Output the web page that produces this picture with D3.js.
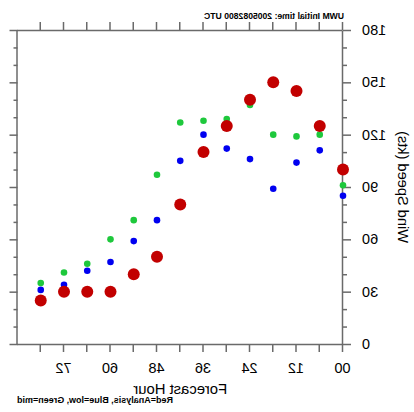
<!DOCTYPE html>
<html><head><meta charset="utf-8">
<script src="https://cdn.jsdelivr.net/npm/d3@7"></script>
<style>
html,body{margin:0;padding:0;background:#fff;}
svg{display:block;font-family:"Liberation Sans",Arial,Helvetica,sans-serif;}
</style></head>
<body>
<svg id="c" width="414" height="412"></svg>
<script>
// Data (forecast hour vs wind speed in kts)
const hours    = [0, 6, 12, 18, 24, 30, 36, 42, 48, 54, 60, 66, 72, 78];
const analysis = [100, 125, 145, 150, 140, 125, 110, 80, 50, 40, 30, 30, 30, 25];
const low      = [85, 111, 104, 89, 106, 112, 120, 105, 71, 59, 47, 42, 34, 31];
const mid      = [91, 120, 119, 120, 137, 129, 128, 127, 97, 71, 60, 46, 41, 35];
const xTicks = [0, 6, 12, 18, 24, 30, 36, 42, 48, 54, 60, 66, 72, 78];
const xLabels = ["00", "12", "24", "36", "48", "60", "72"];
const yMajor = [0, 30, 60, 90, 120, 150, 180];
const yMinor = [10, 20, 40, 50, 70, 80, 100, 110, 130, 140, 160, 170];
const titleText = "UWM Initial time: 2005082800 UTC";
const xTitle = "Forecast Hour";
const yTitle = "Wind Speed (kts)";
const noteText = "Red=Analysis, Blue=low, Green=mid";

const svg = d3.select("#c");
// the reference picture is horizontally mirrored
const g = svg.append("g").attr("transform", "translate(414,0) scale(-1,1)");

const L = 71, R = 396.5, T = 30, B = 344;
const x = d3.scaleLinear().domain([0, 84]).range([L, R]);
const y = d3.scaleLinear().domain([0, 180]).range([B, T]);

const axStroke = "#6a6a6a", axW = 1.5;
function style(sel){
  sel.select(".domain").attr("stroke", axStroke).attr("stroke-width", axW);
  sel.selectAll(".tick line").attr("stroke", axStroke).attr("stroke-width", axW);
  sel.selectAll("text").attr("fill", "#000").attr("font-family", "'Liberation Sans',Arial,sans-serif");
}

const lblMap = {}; xLabels.forEach(s => lblMap[+s] = s);

// bottom
g.append("g").attr("transform", `translate(0,${B})`)
  .call(d3.axisBottom(x).tickValues(xTicks).tickSize(8).tickSizeOuter(0).tickPadding(10.5)
    .tickFormat(d => lblMap[d] !== undefined ? lblMap[d] : ""))
  .call(style)
  .call(s => s.selectAll("text").attr("font-size", 14.5));
// top
g.append("g").attr("transform", `translate(0,${T})`)
  .call(d3.axisTop(x).tickValues(xTicks).tickSize(8).tickSizeOuter(0).tickFormat(""))
  .call(style);
// left major
g.append("g").attr("transform", `translate(${L},0)`)
  .call(d3.axisLeft(y).tickValues(yMajor).tickSize(8).tickSizeOuter(0).tickPadding(11).tickFormat(d3.format("d")))
  .call(style)
  .call(s => s.selectAll("text").attr("font-size", 14.5));
g.append("g").attr("transform", `translate(${L},0)`)
  .call(d3.axisLeft(y).tickValues(yMinor).tickSize(4).tickSizeOuter(0).tickFormat(""))
  .call(style).call(s => s.select(".domain").remove());
// right
g.append("g").attr("transform", `translate(${R},0)`)
  .call(d3.axisRight(y).tickValues(yMajor).tickSize(8).tickSizeOuter(0).tickFormat(""))
  .call(style);
g.append("g").attr("transform", `translate(${R},0)`)
  .call(d3.axisRight(y).tickValues(yMinor).tickSize(4).tickSizeOuter(0).tickFormat(""))
  .call(style).call(s => s.select(".domain").remove());

// points
const pts = g.append("g");
pts.selectAll("circle.low").data(hours).join("circle").attr("class", "low")
  .attr("cx", (d) => x(d)).attr("cy", (d, i) => y(low[i])).attr("r", 3.3).attr("fill", "#0000f0");
pts.selectAll("circle.mid").data(hours).join("circle").attr("class", "mid")
  .attr("cx", (d) => x(d)).attr("cy", (d, i) => y(mid[i])).attr("r", 3.3).attr("fill", "#1ec83c");
pts.selectAll("circle.ana").data(hours).join("circle").attr("class", "ana")
  .attr("cx", (d) => x(d)).attr("cy", (d, i) => y(analysis[i])).attr("r", 6).attr("fill", "#c20000");

// texts
g.append("text").attr("x", 70).attr("y", 18.5).attr("font-size", 8.8).attr("font-weight", "bold")
  .attr("textLength", 140).attr("lengthAdjust", "spacingAndGlyphs").text(titleText);
g.append("text").attr("x", (L + R) / 2).attr("y", 394).attr("text-anchor", "middle")
  .attr("font-size", 14.8).text(xTitle);
g.append("text").attr("transform", `translate(16,${(T + B) / 2}) rotate(-90)`).attr("text-anchor", "middle")
  .attr("font-size", 14.6).text(yTitle);
g.append("text").attr("x", 397).attr("y", 403).attr("text-anchor", "end").attr("font-size", 8.5)
  .attr("font-weight", "bold").attr("textLength", 156).attr("lengthAdjust", "spacingAndGlyphs").text(noteText);
</script>
</body></html>
